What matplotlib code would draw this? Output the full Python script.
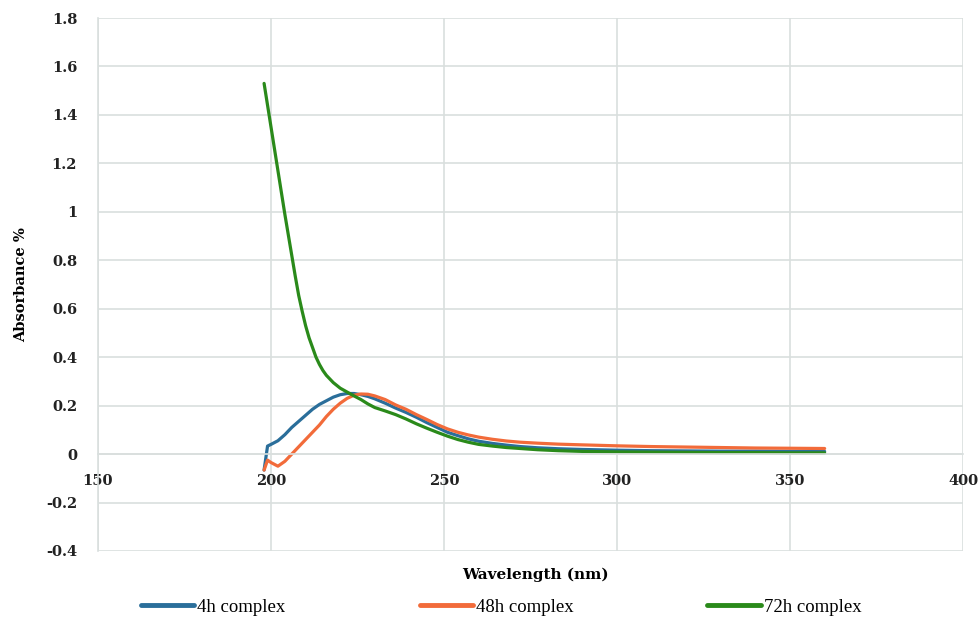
import matplotlib.pyplot as plt

# wavelength grids (nm)
wl_4h_48h = [198, 199, 200, 202, 204, 206, 208, 210, 212, 214, 216, 218, 220, 222,
             224, 226, 228, 230, 233, 236, 239, 242, 245, 248, 251, 254, 257, 260,
             264, 268, 272, 277, 283, 290, 300, 310, 320, 330, 340, 350, 360]

abs_4h = [-0.066, 0.033, 0.04, 0.055, 0.08, 0.11, 0.135, 0.16, 0.185, 0.205, 0.22,
          0.235, 0.245, 0.25, 0.25, 0.245, 0.238, 0.228, 0.21, 0.19, 0.172, 0.152,
          0.13, 0.11, 0.09, 0.076, 0.063, 0.053, 0.044, 0.037, 0.031, 0.026, 0.022,
          0.019, 0.016, 0.014, 0.013, 0.012, 0.012, 0.011, 0.011]

abs_48h = [-0.066, -0.025, -0.035, -0.05, -0.03, 0.0, 0.03, 0.06, 0.09, 0.12, 0.155,
           0.185, 0.21, 0.23, 0.243, 0.248, 0.247, 0.24, 0.225, 0.203, 0.185, 0.163,
           0.143, 0.122, 0.104, 0.09, 0.079, 0.07, 0.061, 0.054, 0.049, 0.045, 0.041,
           0.038, 0.034, 0.031, 0.029, 0.027, 0.025, 0.024, 0.023]

wl_72h = [198, 199, 200, 201, 202, 203, 204, 205, 206, 207, 208, 209, 210, 211, 212,
          213, 214, 215, 216, 218, 220, 222, 224, 226, 228, 230, 233, 236, 239, 242,
          245, 248, 251, 254, 257, 260, 264, 268, 272, 277, 283, 290, 300, 310, 320,
          330, 340, 350, 360]

abs_72h = [1.53, 1.44, 1.35, 1.26, 1.17, 1.08, 0.99, 0.905, 0.82, 0.735, 0.655, 0.59,
           0.53, 0.48, 0.44, 0.40, 0.37, 0.345, 0.325, 0.295, 0.272, 0.256, 0.24,
           0.225, 0.207, 0.192, 0.178, 0.163, 0.145, 0.125, 0.107, 0.09, 0.074, 0.06,
           0.049, 0.04, 0.033, 0.027, 0.023, 0.018, 0.014, 0.011, 0.009, 0.008,
           0.007, 0.006, 0.006, 0.005, 0.005]

labels = ["4h complex", "48h complex", "72h complex"]
colors = ["#2a6e9a", "#f26b3a", "#2a8a1a"]

x_ticks = [150, 200, 250, 300, 350, 400]
y_ticks = [-0.4, -0.2, 0, 0.2, 0.4, 0.6, 0.8, 1, 1.2, 1.4, 1.6, 1.8]
y_labels = ["-0.4", "-0.2", "0", "0.2", "0.4", "0.6", "0.8", "1", "1.2", "1.4", "1.6", "1.8"]

grid_col = "#d9dfde"

fig = plt.figure(figsize=(9.79, 6.19), dpi=100)
ax = fig.add_axes([0.1001, 0.1099, 0.8836, 0.861])

series = [(wl_4h_48h, abs_4h), (wl_4h_48h, abs_48h), (wl_72h, abs_72h)]
for (xs, ys), lab, c in zip(series, labels, colors):
    ax.plot(xs, ys, color=c, lw=2.3, label=lab, solid_capstyle="round",
            solid_joinstyle="round")

ax.set_xlim(150, 400)
ax.set_ylim(-0.4, 1.8)
ax.set_xticks(x_ticks)
ax.set_yticks(y_ticks)
ax.set_yticklabels(y_labels)
ax.grid(True, color=grid_col, lw=1.2)
ax.set_axisbelow(True)

for s in ["top", "right"]:
    ax.spines[s].set_visible(False)
ax.spines["left"].set_color(grid_col)
ax.spines["left"].set_linewidth(1.2)
ax.spines["bottom"].set_position(("data", 0))
ax.spines["bottom"].set_color(grid_col)
ax.spines["bottom"].set_linewidth(1.2)

ax.tick_params(axis="both", length=0, labelsize=10.5, colors="#222222")
ax.tick_params(axis="x", pad=14)
ax.tick_params(axis="y", pad=15)
for t in ax.get_xticklabels() + ax.get_yticklabels():
    t.set_fontfamily("DejaVu Serif")
    t.set_fontweight("bold")

fig.text(0.0215, 0.54, "Absorbance %", rotation=90, ha="center", va="center",
         fontsize=10.5, fontweight="bold", family="DejaVu Serif")
fig.text(0.547, 0.071, "Wavelength (nm)", ha="center", va="center",
         fontsize=11, fontweight="bold", family="DejaVu Serif")

leg = fig.legend(loc="center", bbox_to_anchor=(0.512, 0.019), ncol=3, frameon=False,
                 handlelength=2.83, handletextpad=0.16, columnspacing=7.15,
                 prop={"family": "Liberation Serif", "size": 13.5})
for line in leg.get_lines():
    line.set_linewidth(3.5)

fig.savefig("out.png", dpi=100)
